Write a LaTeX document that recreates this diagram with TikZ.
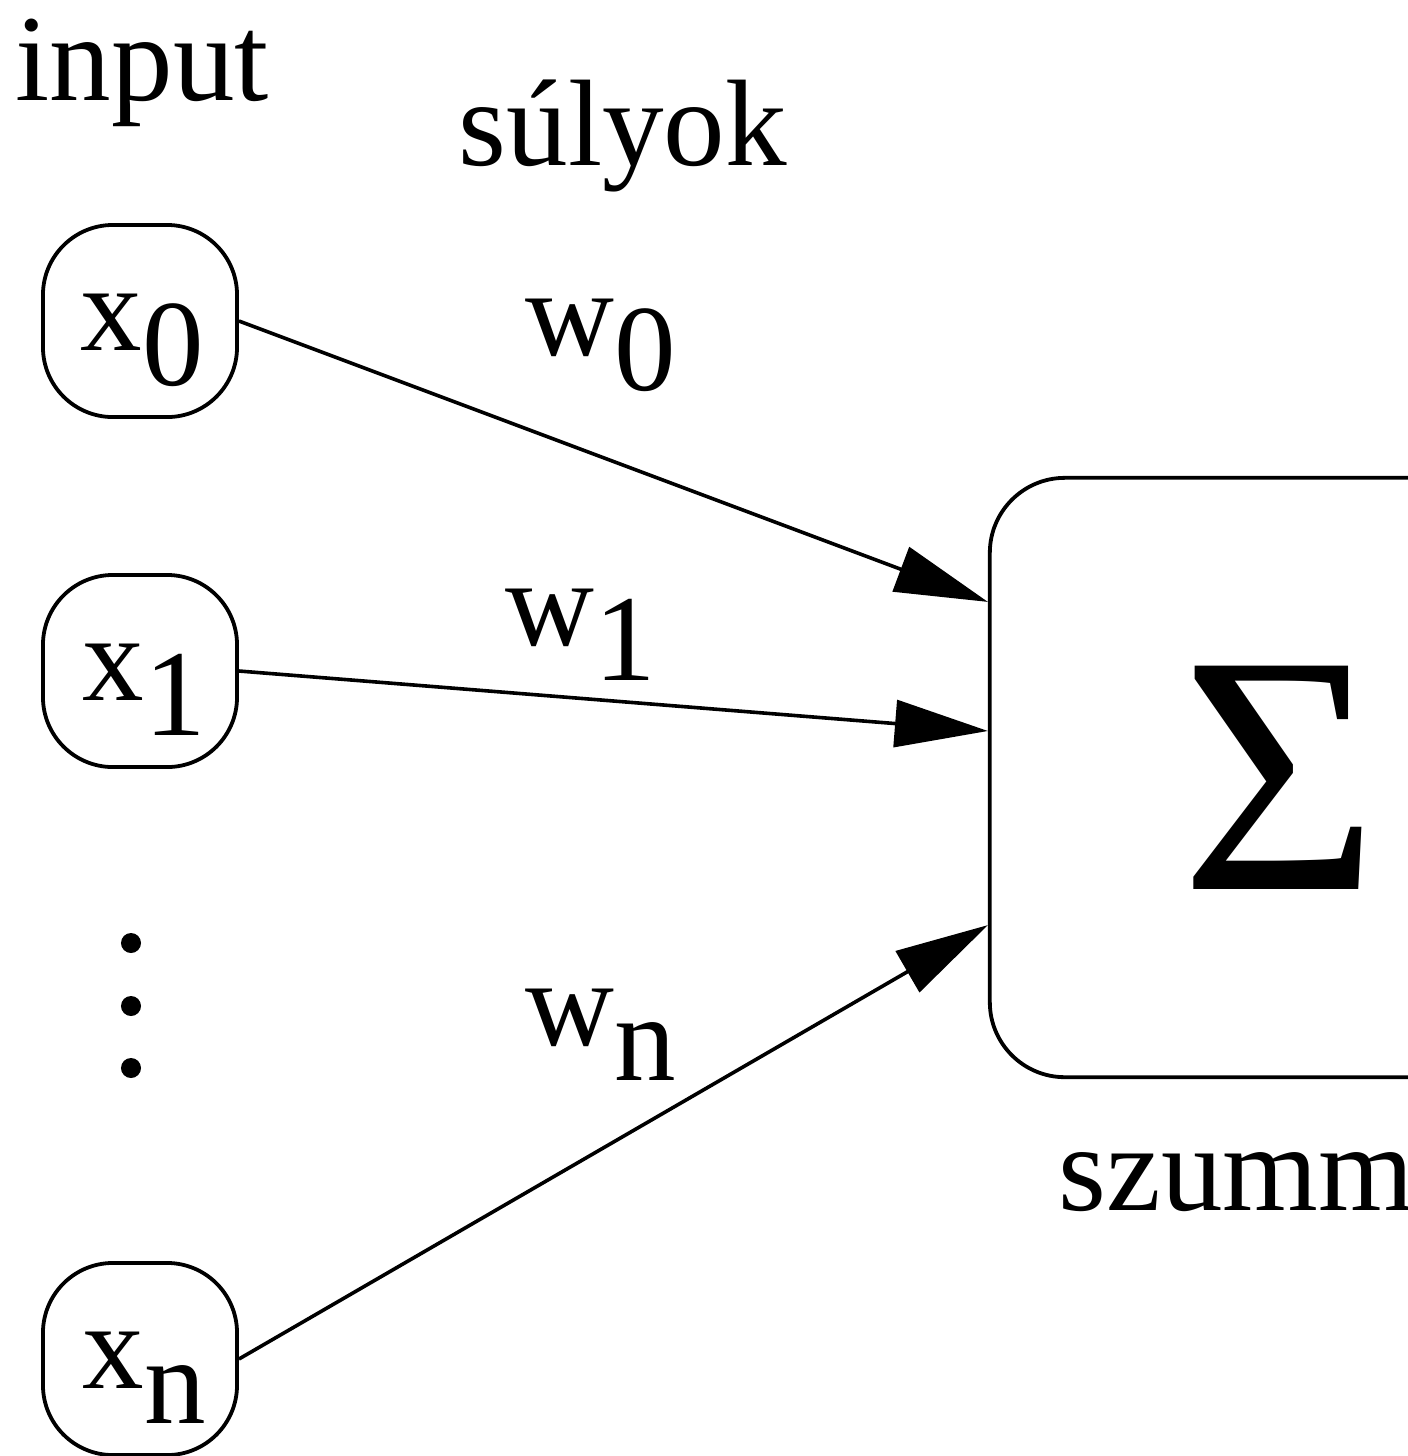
\documentclass[tikz,border=0pt]{standalone}
\usepackage{fontspec}
\setmainfont{Liberation Serif}
\usetikzlibrary{arrows.meta,calc}
\newcommand\lowsub[1]{\lower0.35cm\hbox{#1}}
\begin{document}
\begin{tikzpicture}[x=0.01cm,y=-0.01cm,
  inbox/.style={draw,line width=0.038cm,rounded corners=0.7cm,minimum width=1.94cm,minimum height=1.92cm,inner sep=0},
  sumbox/.style={draw,line width=0.038cm,rounded corners=0.75cm,minimum width=5.8cm,minimum height=5.99cm,inner sep=0,font=\fontsize{97}{100}\selectfont},
  lbl/.style={anchor=base west,inner sep=0,font=\fontsize{35}{42}\selectfont},
  conn/.style={line width=0.036cm,-{Triangle[length=0.93cm,width=0.47cm]}},
]
\useasboundingbox (0,0) rectangle (1408,1456);
\clip (0,0) rectangle (1408,1456);
\fill[white] (0,0) rectangle (1408,1456);
% input boxes
\node[inbox] (x0) at (140,321) {};
\node[inbox] (x1) at (140,671) {};
\node[inbox] (xn) at (140,1359) {};
% summation box
\node[sumbox] (S) at (1280,777.5) {Σ};
% texts
\node[lbl] (tin) at (15,100) {input};
\node[lbl] (tsu) at (458,165) {súlyok};
\node[lbl] (tx0) at (80,350) {x\lowsub{0}};
\node[lbl] (tx1) at (82,700) {x\lowsub{1}};
\node[lbl] (txn) at (82,1388) {x\lowsub{n}};
\node[lbl] (tw0) at (525,355) {w\lowsub{0}};
\node[lbl] (tw1) at (505,645) {w\lowsub{1}};
\node[lbl] (twn) at (525,1045) {w\lowsub{n}};
\node[lbl] (tsz) at (1058,1210) {szumm};
% dots
\fill (131,943) circle (0.1cm);
\fill (131,1006) circle (0.1cm);
\fill (131,1068) circle (0.1cm);
% connectors
\draw[conn] (x0.east) -- ([yshift=1.755cm]S.west);
\draw[conn] (x1.east) -- ([yshift=0.465cm]S.west);
\draw[conn] (xn.east) -- ([yshift=-1.475cm]S.west);
\end{tikzpicture}
\end{document}
